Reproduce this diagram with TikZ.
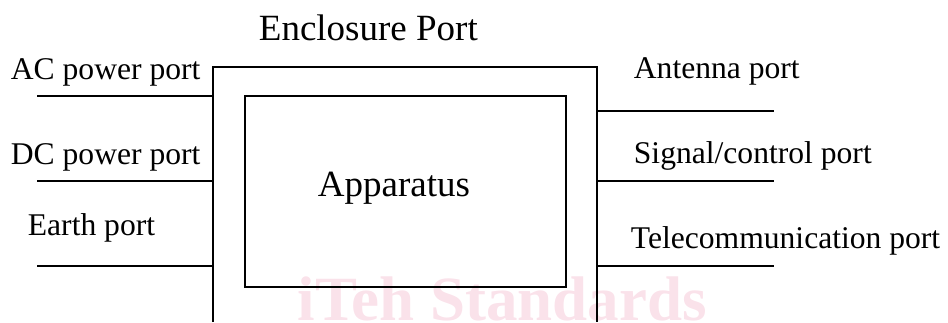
\documentclass[tikz,border=0pt]{standalone}
\usepackage{fontspec}
\setmainfont{Liberation Serif}
\definecolor{wmpink}{RGB}{250,226,234}

\begin{document}
\begin{tikzpicture}[x=1pt, y=-1pt, line width=1.8pt,
                    portlabel/.style={font=\fontsize{31.6}{38}\selectfont, anchor=base west, inner sep=0pt},
                    biglabel/.style={font=\fontsize{37}{44}\selectfont, anchor=base west, inner sep=0pt}]
\useasboundingbox (0,0) rectangle (948,322);

% watermark
\node[font=\bfseries\fontsize{63}{70}\selectfont, text=wmpink, anchor=base west, inner sep=0pt] (wm) at (297,320) {iTeh Standards};

% enclosure and apparatus
\coordinate (encl-bl) at (213,322);
\coordinate (encl-tr) at (597,67);
\coordinate (encl-br) at (597,322);
\draw (encl-bl) |- (encl-tr) -- (encl-br);
\node[draw, minimum width=321pt, minimum height=191pt, inner sep=0pt] (app) at (405.5,191.5) {};

\node[biglabel] (encl) at (258,40) {Enclosure Port};
\node[biglabel] (apptext) at (317,196) {Apparatus};

% ports
\foreach \name/\y in {ac/96, dc/181, earth/266} {
  \coordinate (\name-in) at (213,\y);
  \coordinate (\name-out) at (37,\y);
  \draw (\name-in) -- (\name-out);
}
\foreach \name/\y in {ant/111, sig/181, tel/266} {
  \coordinate (\name-in) at (597,\y);
  \coordinate (\name-out) at (774,\y);
  \draw (\name-in) -- (\name-out);
}

\node[portlabel] (aclabel)    at (10,79)   {AC power port};
\node[portlabel] (dclabel)    at (10,164)  {DC power port};
\node[portlabel] (earthlabel) at (27,235)  {Earth port};
\node[portlabel] (antlabel)   at (633,78)  {Antenna port};
\node[portlabel] (siglabel)   at (633,163) {Signal/control port};
\node[portlabel] (tellabel)   at (630,248) {Telecommunication port};
\end{tikzpicture}
\end{document}
